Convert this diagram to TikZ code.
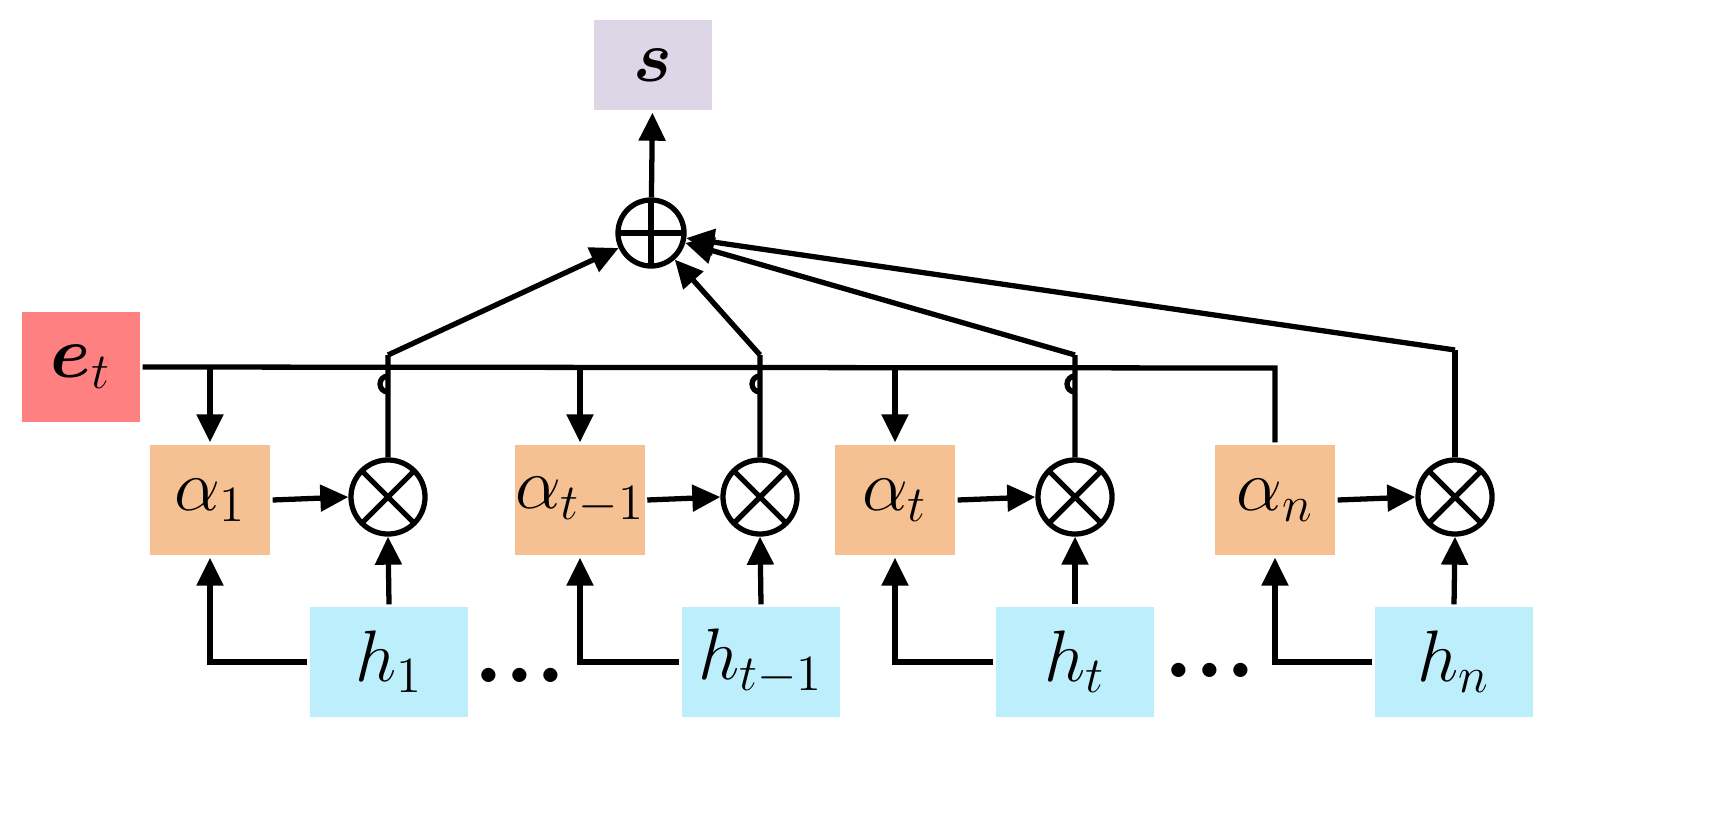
\documentclass[tikz,border=0pt]{standalone}
\usepackage{amsmath,bm}
\usetikzlibrary{arrows.meta}
\definecolor{sbox}{HTML}{DCD6E6}
\definecolor{ebox}{HTML}{FF8080}
\definecolor{abox}{HTML}{F5C092}
\definecolor{hbox}{HTML}{BDEEFB}
\begin{document}
\begin{tikzpicture}[x=0.01cm,y=-0.01cm,line width=1.5pt,
  arr/.style={-{Triangle[length=0.28cm,width=0.26cm]}},
  box/.style={draw=none,minimum width=1.2cm,minimum height=1.1cm,inner sep=0pt,font=\fontsize{21}{23}\selectfont},
  hb/.style={box,fill=hbox,minimum width=1.58cm},
  ab/.style={box,fill=abox},
  ot/.style={circle,draw,minimum size=0.74cm,inner sep=0pt,path picture={
     \draw (path picture bounding box.north west)--(path picture bounding box.south east)
           (path picture bounding box.north east)--(path picture bounding box.south west);}}]
\node[box,fill=sbox,minimum width=1.17cm,minimum height=0.9cm] (s) at (653,65) {$\bm{s}$};
\node[circle,draw,minimum size=0.66cm,inner sep=0pt,path picture={
  \draw (path picture bounding box.north)--(path picture bounding box.south)
        (path picture bounding box.east)--(path picture bounding box.west);}] (op) at (651,233) {};
\node[box,fill=ebox,minimum width=1.18cm] (e) at (81,367) {$\bm{e}_t$};
\node[ab] (a1) at (210,500) {$\alpha_1$};
\node[ab] (a2) at (580,500) {$\alpha_{t-1}$};
\node[ab] (a3) at (895,500) {$\alpha_t$};
\node[ab] (a4) at (1275,500) {$\alpha_n$};
\node[ot] (o1) at (388,497) {};
\node[ot] (o2) at (760,497) {};
\node[ot] (o3) at (1075,497) {};
\node[ot] (o4) at (1455,497) {};
\node[hb] (h1) at (389,662) {$h_1$};
\node[hb] (h2) at (761,662) {$h_{t-1}$};
\node[hb] (h3) at (1075,662) {$h_t$};
\node[hb] (h4) at (1454,662) {$h_n$};
\node[font=\fontsize{28}{30}\selectfont\bfseries] (d1) at (520,675) {...};
\node[font=\fontsize{28}{30}\selectfont\bfseries] (d2) at (1210,670) {...};
\draw[arr] (op) -- (s);
\coordinate (eN) at (1275,368);
\draw (e.east) -- (eN) -- (a4.north);
\foreach \a in {a1,a2,a3}{\draw[arr] (\a.north |- eN) -- (\a.north);}
\foreach \a/\o in {a1/o1,a2/o2,a3/o3,a4/o4}{
  \draw[arr] (\a.east) -- (\o.west);}
\foreach \h/\o/\a in {h1/o1/a1,h2/o2/a2,h3/o3/a3,h4/o4/a4}{
  \draw[arr] (\h.north) -- (\o.south);
  \draw[arr] (\h.west) -| (\a.south);}
\foreach \o/\x in {o1/388,o2/760,o3/1075}{
  \coordinate (j\o) at (\x,355);
  \draw (\o.north) -- (\x,376) arc[start angle=270,end angle=90,radius=8] -- (j\o);}
\coordinate (jo4) at (1455,350);
\draw (o4.north) -- (jo4);
\draw[arr] (jo1) -- (op);
\draw[arr] (jo2) -- (op);
\draw[arr] (jo3) -- (op);
\draw[arr] (jo4) -- (op);
\pgfresetboundingbox
\useasboundingbox (0,0) rectangle (1728,821);
\end{tikzpicture}
\end{document}
